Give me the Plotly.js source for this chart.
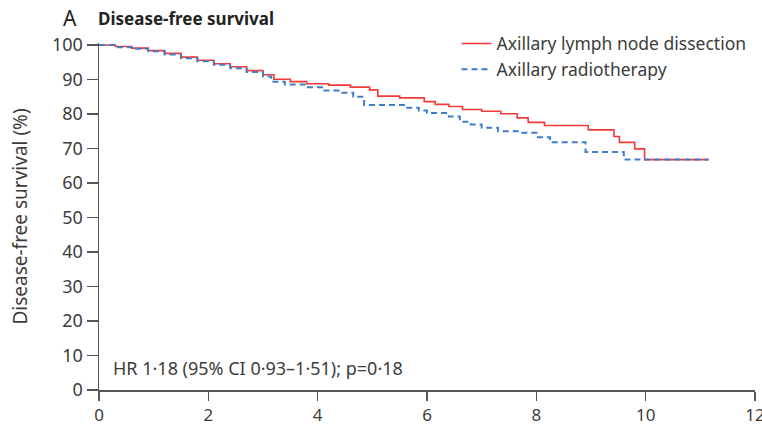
<!DOCTYPE html>
<html>
<head>
<meta charset="utf-8">
<script src="https://cdn.plot.ly/plotly-3.0.1.min.js"></script>
<style>html,body{margin:0;padding:0;background:#fff;}#chart{width:762px;height:425px;}</style>
</head>
<body>
<div id="chart"></div>
<script>
// Axillary lymph node dissection (years, % disease-free)
const alndTime = [0, 0.3, 0.6, 0.9, 1.2, 1.5, 1.8, 2.1, 2.4, 2.7, 3.0, 3.2, 3.5, 3.8, 4.2, 4.6, 4.95, 5.1, 5.5, 5.95, 6.15, 6.4, 6.65, 7.0, 7.35, 7.65, 7.85, 8.15, 8.95, 9.42, 9.52, 9.8, 9.98, 11.15];
const alndSurv = [100, 99.6, 99.1, 98.4, 97.6, 96.5, 95.6, 94.6, 93.7, 92.6, 91.4, 90.1, 89.4, 88.8, 88.4, 87.8, 87.0, 85.2, 84.7, 83.6, 82.8, 82.2, 81.3, 80.8, 80.1, 78.9, 77.6, 76.7, 75.4, 73.5, 71.8, 69.9, 66.8, 66.8];
// Axillary radiotherapy
const artTime = [0, 0.3, 0.6, 0.9, 1.2, 1.5, 1.8, 2.1, 2.4, 2.7, 3.0, 3.15, 3.4, 3.8, 4.1, 4.4, 4.65, 4.85, 5.6, 5.85, 6.0, 6.4, 6.6, 6.8, 7.0, 7.3, 7.7, 8.0, 8.25, 8.9, 9.6, 11.15];
const artSurv = [100, 99.4, 98.9, 98.2, 97.3, 96.2, 95.3, 94.3, 93.3, 92.2, 90.9, 89.4, 88.6, 87.8, 86.8, 86.2, 85.0, 82.6, 81.8, 81.0, 80.3, 79.3, 77.8, 77.0, 76.0, 75.0, 74.6, 73.3, 71.8, 69.0, 66.8, 66.8];

const seriesNames = ["Axillary lymph node dissection", "Axillary radiotherapy"];
const xTicks = [0, 2, 4, 6, 8, 10, 12];
const yTicks = [0, 10, 20, 30, 40, 50, 60, 70, 80, 90, 100];
const panelLetter = "A";
const panelTitle = "Disease-free survival";
const yTitle = "Disease-free survival (%)";
const statText = "HR 1·18 (95% CI 0·93–1·51); p=0·18";

const font = "Noto Sans, Open Sans, sans-serif";
const txt = "#3c3c3c";
const axc = "#555555";

const traces = [
  {x: alndTime, y: alndSurv, name: seriesNames[0], type: "scatter", mode: "lines",
   line: {shape: "hv", color: "#f23a3a", width: 1.6}},
  {x: artTime, y: artSurv, name: seriesNames[1], type: "scatter", mode: "lines",
   line: {shape: "hv", color: "#3f7ec8", width: 2, dash: "6px,4px"}}
];

const layout = {
  width: 762, height: 425,
  margin: {l: 99, r: 7, t: 43, b: 35},
  paper_bgcolor: "#fff", plot_bgcolor: "#fff",
  font: {family: font, size: 17.5, color: txt},
  showlegend: true,
  legend: {x: 0.545, y: 1.05, xanchor: "left", yanchor: "top",
           font: {family: font, size: 17.5, color: txt}, bgcolor: "rgba(0,0,0,0)",
           tracegroupgap: 0},
  xaxis: {range: [0, 12], tickvals: xTicks, ticktext: xTicks.map(String),
          showgrid: false, zeroline: false, showline: true, linecolor: axc, linewidth: 1.5,
          ticks: "outside", ticklen: 9, tickwidth: 1.5, tickcolor: axc,
          ticklabeloverflow: "allow",
          tickfont: {family: font, size: 17, color: txt}},
  yaxis: {range: [0, 100.6], tickvals: yTicks, ticktext: yTicks.map(String),
          showgrid: false, zeroline: false, showline: true, linecolor: axc, linewidth: 1.5,
          ticks: "outside", ticklen: 11, tickwidth: 1.5, tickcolor: axc,
          tickfont: {family: font, size: 18, color: txt},
          title: {text: yTitle, font: {family: font, size: 19, color: txt}, standoff: 19}},
  annotations: [
    {text: panelLetter, xref: "paper", yref: "paper", x: -0.058, y: 1.0, yshift: 25,
     xanchor: "left", yanchor: "middle", showarrow: false,
     font: {family: font, size: 21, color: "#222"}},
    {text: "<b>" + panelTitle + "</b>", xref: "paper", yref: "paper", x: -0.005, y: 1.0, yshift: 25,
     xanchor: "left", yanchor: "middle", showarrow: false,
     font: {family: font, size: 17, color: "#222"}},
    {text: statText, xref: "paper", yref: "y", x: 0.018, y: 6.4,
     xanchor: "left", yanchor: "middle", showarrow: false,
     font: {family: font, size: 18, color: txt}}
  ]
};

Plotly.newPlot("chart", traces, layout, {displayModeBar: false, staticPlot: true});
</script>
</body>
</html>
